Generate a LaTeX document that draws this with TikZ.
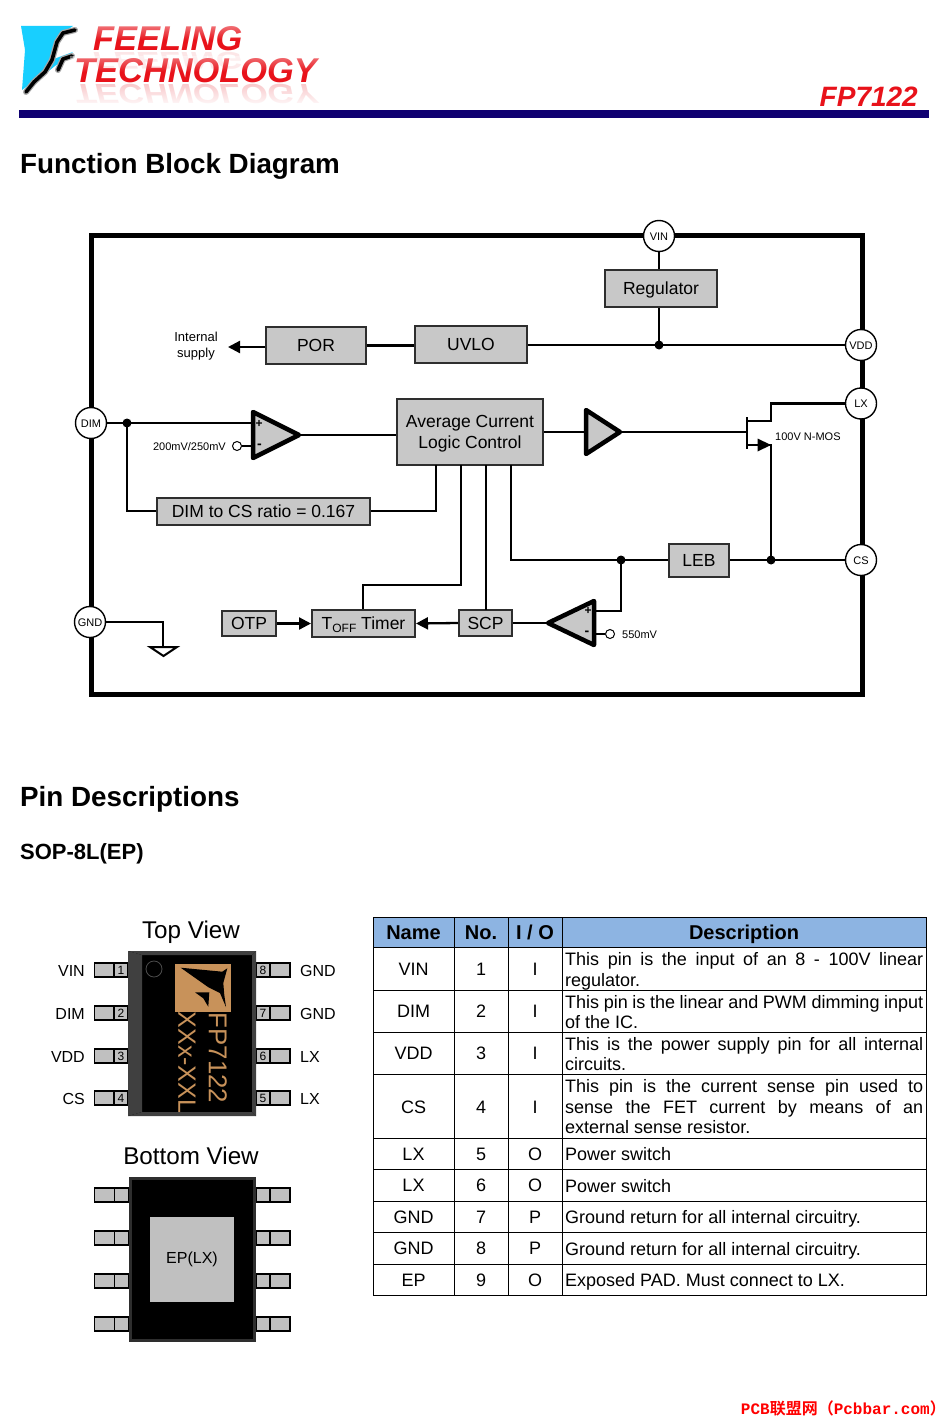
\documentclass[tikz,border=0pt]{standalone}
\usepackage{fontspec}
\setmainfont{Liberation Sans}
\newfontfamily\cjkf{Noto Sans CJK SC}[BoldFont={* Bold}]
\newfontfamily\monof{Liberation Mono}
\definecolor{navy}{HTML}{0F0071}
\definecolor{boxg}{HTML}{C8C8C8}
\definecolor{pingray}{HTML}{C0C0C0}
\definecolor{edge}{HTML}{2E2E2E}
\definecolor{tan}{HTML}{C8925A}
\definecolor{hdr}{HTML}{8DB4E2}
\definecolor{logored}{HTML}{E8121A}
\definecolor{logocyan}{HTML}{18CFFF}
\newcommand{\fs}[1]{\fontsize{#1}{#1}\selectfont}
\newcommand{\jl}[1]{\makebox[358pt][s]{#1}}
\usetikzlibrary{arrows.meta,fadings}
\tikzset{
  blk/.style={draw=edge,fill=boxg,line width=2pt,inner sep=0pt,font=\fs{17.5},text height=15pt,text depth=3pt},
  blkm/.style={draw=edge,fill=boxg,line width=2pt,inner sep=0pt,font=\fs{17.5}},
  wire/.style={line width=2.3pt,black,line join=miter},
  pinc/.style={circle,draw=black,fill=white,line width=1.4pt,minimum size=31pt,inner sep=0pt,font=\fs{11},text height=8.6pt,text depth=0pt},
  dot/.style={circle,fill=black,minimum size=9pt,inner sep=0pt},
  ref/.style={circle,draw=black,fill=white,line width=1pt,minimum size=9pt,inner sep=0pt},
  amp/.style={fill=boxg,draw=black,line width=4.5pt,line join=round},
  lbl/.style={inner sep=0pt,font=\fs{11},yshift=-.7pt},
  cell/.style={inner sep=0pt,font=\fs{18},text height=13pt,text depth=3pt,yshift=-1pt},
  desc/.style={cell,anchor=west},
  hcell/.style={cell,font=\fs{20}\bfseries,yshift=-1.5pt},
  title/.style={inner sep=0pt,anchor=west,font=\fs{27.8}\bfseries},
  tail/.style={draw=black,fill=pingray,line width=1.6pt},
  view/.style={inner sep=0pt,font=\fs{24.2}},
  pinl/.style={inner sep=0pt,font=\fs{16},yshift=-1pt},
  pnum/.style={inner sep=0pt,font=\fs{12}},
  tick/.style={-{Triangle[length=12pt,width=12pt]}},
  logot/.style={inner sep=0pt,text=logored,font=\fs{34.4}\bfseries\itshape},
}
\begin{document}
\begin{tikzpicture}[x=1pt,y=-1pt]
\useasboundingbox (0,0) rectangle (943,1423);
\fill[white] (0,0) rectangle (943,1423);
% ---------- logo
\fill[logocyan] (21,26) -- (73,26) -- (63,33) -- (56,40) -- (51,60) -- (73,52) -- (60,62) -- (50,70) -- (36,80) -- (22,90) -- (25,50) -- cycle;
\draw[black!35,line width=6pt,line cap=round,line join=round] (75,30) -- (63,33) -- (57,42) -- (52,60) -- (45,72) -- (34,82) -- (26,92);
\draw[black,line width=3.6pt,line cap=round,line join=round] (75,30) -- (63,33) -- (57,42) -- (52,60) -- (45,72) -- (34,82) -- (26,92);
\draw[black!35,line width=6pt,line cap=round,line join=round] (72,56) -- (63,59) -- (58,70);
\draw[black,line width=3.6pt,line cap=round,line join=round] (72,56) -- (63,59) -- (58,70);
\node[logot,anchor=north west,opacity=.1] (reflA) at (93,52) {\scalebox{1}[-.7]{FEELING}};
\node[logot,anchor=north west,opacity=.22] (reflB) at (74,84) {\scalebox{1}[-.8]{TECHNOLOGY}};
\fill[white,path fading=north] (60,84) rectangle (330,108);
\node[logot,anchor=west] (logoA) at (93,39) {FEELING};
\node[logot,anchor=west] (logoB) at (74,71) {TECHNOLOGY};
\fill[white,opacity=.45,path fading=south] (80,24) rectangle (330,40);
\fill[white,opacity=.4,path fading=south] (70,56) rectangle (330,72);
\fill[navy] (19,110) rectangle (929,118);
\node[inner sep=0pt,anchor=east,text=logored,font=\fs{28}\bfseries\itshape] (part) at (918,97) {FP7122};
\node[title] (t1) at (20,166) {Function Block Diagram};
\node[title] (t2) at (20,799) {Pin Descriptions};
\node[inner sep=0pt,anchor=west,font=\fs{22}\bfseries] (t3) at (20,854) {SOP-8L(EP)};
% ---------- block diagram frame
\draw[black,line width=5pt] (91,236) rectangle (862,694);
% coordinates
\coordinate (j1) at (659,345);
\coordinate (j2) at (127,423);
\coordinate (j3) at (621,560);
\coordinate (j4) at (771,560);
\coordinate (a1a) at (253,412); \coordinate (a1b) at (253,458); \coordinate (a1t) at (299,435);
\coordinate (a1p) at (253,423); \coordinate (a1n) at (253,446);
\coordinate (a2a) at (586,410); \coordinate (a2b) at (586,454); \coordinate (a2t) at (620,432); \coordinate (a2i) at (586,432);
\coordinate (a3a) at (594,601); \coordinate (a3b) at (594,645); \coordinate (a3t) at (548,623);
\coordinate (a3p) at (594,611); \coordinate (a3n) at (594,634);
\coordinate (gate) at (747,432);
\coordinate (dr) at (771,421); \coordinate (dr0) at (748,421);
\coordinate (sr) at (771,445); \coordinate (sr0) at (748,445);
\coordinate (k1) at (363,585); \coordinate (k2) at (461,585);
\coordinate (gt) at (163,646);
% blocks
\node[blk,minimum width=112pt,minimum height=37pt] (reg) at (661,288.5) {Regulator\hspace{4pt}};
\node[blk,minimum width=100pt,minimum height=37pt] (por) at (316,345.5) {POR};
\node[blk,minimum width=112pt,minimum height=37pt] (uvlo) at (471,344.5) {UVLO};
\node[blkm,minimum width=146pt,minimum height=66pt,align=center] (acl) at (470,432) {\rule{0pt}{16pt}Average Current\\[3pt]Logic Control};
\node[blk,minimum width=213pt,minimum height=27pt] (ratio) at (263.5,511) {DIM to CS ratio = 0.167};
\node[blk,minimum width=60pt,minimum height=33pt] (leb) at (699,560) {LEB};
\node[blk,minimum width=54pt,minimum height=25pt] (otp) at (249,623.5) {OTP};
\node[blk,minimum width=103pt,minimum height=27pt] (toff) at (363.5,623.5) {T\raisebox{-2.5pt}{\fs{12}OFF} Timer};
\node[blk,minimum width=53pt,minimum height=26pt] (scp) at (485.5,623) {SCP};
% pins
\node[pinc] (pvin) at (659,236) {VIN};
\node[pinc] (pvdd) at (861,345) {VDD};
\node[pinc] (plx) at (861,403.5) {LX};
\node[pinc] (pcs) at (861,560) {CS};
\node[pinc] (pdim) at (91,423) {DIM};
\node[pinc] (pgnd) at (90,622) {GND};
% wires
\draw[wire] (pvin) -- (pvin |- reg.north);
\draw[wire] (reg.south -| j1) -- (j1);
\draw[wire] (uvlo.east |- j1) -- (pvdd.west |- j1);
\draw[wire] (por.east) -- (uvlo.west |- por.east);
\coordinate (int) at (228,347);
\draw[wire,tick] (por.west |- int) -- (int);
\draw[wire] (pdim.east) -- (a1p);
\draw[wire] (j2) |- (ratio.west);
\draw[wire] (ratio.east) -| (436,465);
\draw[wire] (a1t) -- (acl.west |- a1t);
\draw[wire] (acl.east |- a2i) -- (a2i);
\draw[wire] (a2t) -- (gate);
\draw[wire] (461,465) -- (k2) -- (k1) -- (k1 |- toff.north);
\draw[wire] (486,465) -- (486,610);
\draw[wire] (511,465) |- (leb.west);
\draw[wire] (leb.east) -- (pcs.west);
\draw[wire] (j3) -- (j3 |- a3p) -- (a3p);
\draw[wire] (a3t) -- (scp.east |- a3t);
\draw[wire,tick] (scp.west) -- (toff.east);
\draw[wire,tick] (otp.east) -- (toff.west);
\draw[wire] (pgnd.east) -| (gt);
\draw[line width=2pt,black,line join=miter] (150,647) -- (177,647) -- (163.5,656) -- cycle;
% MOSFET
\draw[black,line width=2.6pt] (747,417) -- (747,449);
\draw[wire] (dr0) -- (dr) -- (dr |- plx.west) -- (plx.west);
\draw[wire] (sr0) -- (sr) -- (j4);
\fill[black] (771,445) -- (757.5,438.5) -- (757.5,451.5) -- cycle;
% amps
\path[amp] (a1a) -- (a1t) -- (a1b) -- cycle;
\path[amp] (a2a) -- (a2t) -- (a2b) -- cycle;
\path[amp] (a3a) -- (a3t) -- (a3b) -- cycle;
\node[dot] (d1) at (j1) {};
\node[dot] (d2) at (j2) {};
\node[dot] (d3) at (j3) {};
\node[dot] (d4) at (j4) {};
\node[ref] (r1) at (237,446) {};
\draw[wire] (r1) -- (a1n);
\node[ref] (r2) at (610,634) {};
\draw[wire] (r2) -- (a3n);
\node[inner sep=0pt,font=\fs{12}\bfseries] (s1) at (259,423.5) {+};
\node[inner sep=0pt,font=\fs{14}\bfseries] (s2) at (259.5,446) {-};
\node[inner sep=0pt,font=\fs{12}\bfseries] (s3) at (588,611) {+};
\node[inner sep=0pt,font=\fs{14}\bfseries] (s4) at (587,633.5) {-};
\node[lbl,align=center,font=\fs{13}] (isup) at (196,345) {Internal\\[3pt]supply};
\node[lbl,anchor=east] (l200) at (226,446) {200mV/250mV};
\node[lbl,anchor=west] (l550) at (622,634) {550mV};
\node[lbl,anchor=west] (lmos) at (775,436) {100V N-MOS};
% ---------- top view
\node[view,anchor=base] (vt) at (191,938.5) {Top View};
\foreach \y/\n/\m/\a/\b in {970/1/8/VIN/GND,1013/2/7/DIM/GND,1056/3/6/VDD/LX,1098/4/5/CS/LX}{
  \draw[tail] (94.5,\y-7) rectangle (128,\y+7);
  \draw[tail] (114,\y-7) rectangle (128,\y+7);
  \draw[tail] (256,\y-7) rectangle (290,\y+7);
  \draw[tail] (256,\y-7) rectangle (270,\y+7);
  \node[pnum] (lnum\n) at (121,\y) {\n};
  \node[pnum] (rnum\m) at (263,\y) {\m};
  \node[pinl,anchor=east] (lname\n) at (85,\y) {\a};
  \node[pinl,anchor=west] (rname\m) at (300,\y) {\b};
}
\fill[black] (128,951) rectangle (256,1116);
\fill[black!75] (128,951) -- (142,955) -- (142,1112) -- (128,1116) -- cycle;
\fill[black!75] (128,951) -- (256,951) -- (252,955) -- (142,955) -- cycle;
\fill[black!75] (128,1116) -- (256,1116) -- (252,1112) -- (142,1112) -- cycle;
\fill[black!75] (256,951) -- (256,1116) -- (252,1112) -- (252,955) -- cycle;
\draw[black!70,line width=.8pt] (154,969) circle (8);
\fill[tan] (175,964) rectangle (231,1012);
\fill[black] (180.7,967.7) -- (222.3,971.7) -- (227.3,968.3) -- (223.3,983) -- (224.3,995) -- (226,1007) -- (220,993) -- (208,987) -- cycle;
\fill[black] (195,992.3) -- (209.3,992.3) -- (208.3,1006.7) -- (203.3,998.3) -- cycle;
\node[inner sep=0pt,rotate=-90,text=tan,font=\fs{25.8}] (mk1) at (218,1058) {FP7122};
\node[inner sep=0pt,rotate=-90,text=tan,font=\fs{25}] (mk2) at (187,1062.5) {XXx-XXL};
% ---------- bottom view
\node[view,anchor=base] (vb) at (191,1164.5) {Bottom View};
\foreach \y in {1195,1238,1281,1324}{
  \draw[tail] (94.5,\y-7) rectangle (129,\y+7);
  \draw[tail] (114.5,\y-7) rectangle (129,\y+7);
  \draw[tail] (256,\y-7) rectangle (290,\y+7);
  \draw[tail] (256,\y-7) rectangle (270,\y+7);
}
\draw[edge,fill=black,line width=3pt] (130,1178.5) rectangle (254.5,1340.5);
\node[fill=pingray,inner sep=0pt,minimum width=84pt,minimum height=85pt,font=\fs{16}] (ep) at (192,1259.5) {EP(LX)};
% ---------- table
\fill[hdr] (373,917) rectangle (926,947);
\draw[black,line width=.8pt] (373,917) rectangle (926,1295);
\foreach \x in {454,508,562}{\draw[black,line width=.8pt] (\x,917) -- (\x,1295);}
\foreach \y in {947,990,1032,1074,1138,1169,1201,1232,1264}{\draw[black,line width=.8pt] (373,\y) -- (926,\y);}
\node[hcell] (h1) at (413.5,932) {Name};
\node[hcell] (h2) at (481,932) {No.};
\node[hcell] (h3) at (535,932) {I / O};
\node[hcell] (h4) at (744,932) {Description};
\foreach \y/\a/\b/\c in {969/VIN/1/I,1011/DIM/2/I,1053/VDD/3/I,1107/CS/4/I,1154/LX/5/O,1185/LX/6/O,1217/GND/7/P,1248/GND/8/P,1280/EP/9/O}{
  \node[cell] (na\b) at (413.5,\y) {\a};
  \node[cell] (no\b) at (481,\y) {\b};
  \node[cell] (io\b) at (535,\y) {\c};
}
\node[desc] (d1a) at (565,959) {\jl{This pin is the input of an 8 - 100V linear}};
\node[desc] (d1b) at (565,980.5) {regulator.};
\node[desc] (d2a) at (565,1002) {\jl{This pin is the linear and PWM dimming input}};
\node[desc] (d2b) at (565,1022.5) {of the IC.};
\node[desc] (d3a) at (565,1044) {\jl{This is the power supply pin for all internal}};
\node[desc] (d3b) at (565,1064.5) {circuits.};
\node[desc] (d4a) at (565,1086) {\jl{This pin is the current sense pin used to}};
\node[desc] (d4b) at (565,1107) {\jl{sense the FET current by means of an}};
\node[desc] (d4c) at (565,1127.5) {external sense resistor.};
\node[desc] (d5) at (565,1154) {Power switch};
\node[desc] (d6) at (565,1186) {Power switch};
\node[desc] (d7) at (565,1217) {Ground return for all internal circuitry.};
\node[desc] (d8) at (565,1249) {Ground return for all internal circuitry.};
\node[desc] (d9) at (565,1280) {Exposed PAD. Must connect to LX.};
% ---------- watermark
\node[inner sep=0pt,anchor=east,text=red,font=\fs{16}\bfseries] (wm) at (946,1408) {\monof\bfseries PCB{\cjkf\bfseries 联盟网（}Pcbbar.com{\cjkf\bfseries ）}};
\end{tikzpicture}
\end{document}
